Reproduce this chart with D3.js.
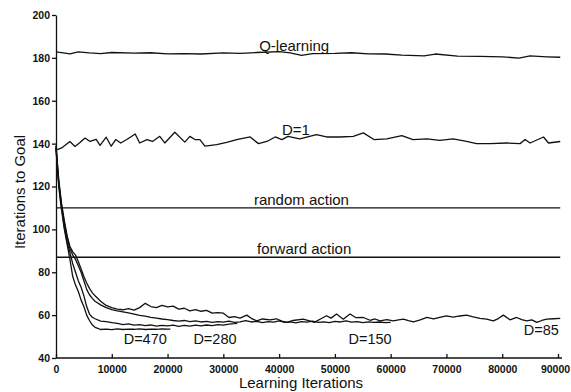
<!DOCTYPE html>
<html>
<head>
<meta charset="utf-8">
<script src="https://cdn.jsdelivr.net/npm/d3@7"></script>
<style>
  body { margin: 0; background: #fff; }
  svg { display: block; font-family: "Liberation Sans", Arial, sans-serif; }
  .tick text { font-weight: bold; fill: #111; }
</style>
</head>
<body>
<svg></svg>
<script>
// series values: [learning iteration, iterations to goal]
let qLearning = [[0,182.8],[2500,181.9],[4000,182.8],[6000,182.3],[8000,182],[10000,182.5],[14000,182.2],[17000,182.4],[20000,181.9],[23000,182],[26000,181.8],[30000,182.3],[33000,182.1],[36000,182.5],[40000,182.9],[42000,182.3],[44000,181.2],[46000,182],[50000,182.1],[53000,182.4],[56000,181.9],[59000,181.8],[62000,181.3],[66000,180.9],[68000,181.8],[72000,180.8],[76000,180.7],[80000,180.5],[83000,179.9],[85000,180.9],[88000,180.5],[90400,180.3]]

let d1 = [[0,137],[1000,138],[2500,141],[3400,138.7],[4300,140.5],[5200,142.6],[6100,141],[7200,142],[7900,139.2],[9000,143],[9900,138.8],[10700,141.9],[11600,140.3],[12700,141.9],[14200,144.5],[15000,140.3],[16300,141.9],[17300,141],[18600,143.4],[19500,140.3],[21300,145.3],[23100,140.7],[24000,143.4],[24900,141.9],[25800,141.9],[26700,138.8],[28800,139.5],[30600,140.6],[32400,141.9],[34800,143.1],[36300,140],[37800,141],[39300,143.1],[40500,141.9],[41600,143.4],[43700,142.2],[46700,144.2],[48500,143.1],[50900,143.1],[53300,143.4],[55100,145],[57000,141.9],[59300,142.2],[62000,143.7],[64000,141.9],[66500,142.2],[68800,141.5],[71200,142.2],[73600,141],[75400,140],[77800,140],[80800,140.3],[83200,140],[84100,141.9],[85000,140.3],[87400,143.1],[88300,140.3],[90400,141]]

let randomAction = [[0,110],[90400,110]]
let forwardAction = [[0,87],[90400,87]]

let d470 = [[0,138],[250,128],[500,120],[750,114],[1000,109],[1500,100],[2000,93],[2500,86],[3000,78],[3500,74],[4000,71],[4500,67],[5000,64],[5500,60],[6000,57.5],[6500,55.5],[7000,54.3],[7500,53.8],[8000,53.3],[9000,53.5],[10000,53.2],[11000,53.6],[12000,53.3],[13000,53.5],[14000,53.4],[15000,53.6],[16000,53.3],[17000,53.5],[18000,53.4],[19000,53.6],[20000,53.5],[20500,53.5]]

let d280 = [[0,138],[250,129],[500,121],[1000,110],[1500,101],[2000,94],[2500,89],[3000,84],[3500,80],[4000,76],[4500,73],[5000,69],[5500,64],[6000,60.5],[6500,59],[7000,58.3],[8000,57.2],[9000,57],[10000,56.5],[11000,56.2],[12000,55.6],[13000,55.9],[14000,55.3],[15000,55.6],[16000,55.1],[17000,55.4],[18000,54.9],[19000,55.2],[20000,55],[21000,55.3],[22000,54.8],[23000,55.2],[24000,54.9],[25000,55.3],[26000,55],[27000,55.4],[28000,55.1],[29000,55.6],[30000,55.3],[31000,55.8],[32000,56],[32500,56.2]]

let d150 = [[0,139],[250,130],[500,122],[1000,111],[1500,103],[2000,96],[2500,91],[3000,88],[3500,86],[4000,83],[4500,80],[5000,76],[5500,72],[6000,69.5],[6500,67.8],[7000,66.5],[8000,64.8],[9000,63.5],[10000,62.6],[11000,62],[12000,61.5],[13000,61],[14000,60.5],[15000,59.9],[16000,59.5],[17000,59],[18000,58.6],[19000,58.2],[20000,57.9],[21000,57.5],[22000,57.2],[23000,57.5],[24000,57],[25000,57.3],[26000,56.8],[27000,57.1],[28000,56.6],[29000,57],[30000,56.7],[31000,57.2],[32000,56.6],[33000,56.9],[34000,57.4],[35000,56.8],[36000,57.1],[37000,56.5],[38000,57],[39000,56.7],[40000,57.3],[41000,56.6],[42000,56.9],[43000,56.4],[44000,57],[45000,56.7],[46000,57.2],[47000,56.6],[48000,56.9],[49000,56.5],[50000,57.1],[51000,56.8],[52000,57.3],[53000,56.7],[54000,57],[55000,56.5],[56000,56.9],[57000,56.6],[58000,56.8],[59000,56.5],[60000,56.6]]

let d85 = [[0,139],[250,131],[500,123],[1000,112],[1500,104],[2000,97],[2500,92],[3000,89.5],[3500,88],[4000,85],[4500,81.5],[5000,78],[5500,75],[6000,72.5],[6500,70.5],[7000,69],[8000,66.5],[9000,64.5],[10000,63.5],[11000,62.8],[12000,62.5],[13000,63],[14000,62.3],[15000,63.5],[16000,65.5],[17000,64],[18000,63.5],[19000,64.5],[20000,63.8],[21000,64.2],[22000,62.8],[23000,63.2],[24000,62],[25000,62.6],[26000,61.8],[27000,62.2],[28000,60.9],[29000,61.2],[30000,60.9],[31000,58.9],[32000,59.3],[33000,58.6],[34200,60],[35000,58.5],[36000,57.3],[37000,58.2],[38400,57.8],[39500,58.3],[40500,57.2],[41400,56.6],[42500,57.5],[44300,58.1],[45300,57.4],[46300,56.6],[47500,58.3],[48500,59.7],[49300,58.6],[50300,60.5],[51500,58.1],[52700,60.5],[53800,58.8],[55100,58.9],[56300,57.6],[57200,58.2],[58100,57.3],[59300,57.9],[60500,57.3],[61400,57.8],[62300,58.1],[63200,57.4],[64100,56.9],[65300,57.8],[66500,58.9],[67700,58.2],[68800,59],[70000,59.7],[71200,59.1],[72400,59.6],[73600,60],[74800,59.2],[76000,58.5],[77200,58.1],[78400,57.3],[79300,58.4],[80200,60],[81400,57.8],[82600,58.9],[83500,57.9],[84400,57.3],[85300,57.8],[86200,56.6],[87100,57.5],[88000,58.1],[89200,58.3],[90400,58.5]]

let xTicks = [0, 10000, 20000, 30000, 40000, 50000, 60000, 70000, 80000, 90000]
let yTicks = [40, 60, 80, 100, 120, 140, 160, 180, 200]

let width = 571;
let height = 392;

let svg = d3.select("svg")
    .attr("width", width)
    .attr("height", height)

let xScale = d3.scaleLinear()
    .domain([0, 90000])
    .range([56, 558])

let yScale = d3.scaleLinear()
    .domain([40, 200])
    .range([358, 15])

let line = d3.line()
    .x((d) => xScale(d[0]))
    .y((d) => yScale(d[1]))

let drawAxes = () => {
    let xAxis = d3.axisBottom(xScale)
        .tickValues(xTicks)
        .tickFormat(d3.format("d"))
        .tickSizeInner(-4)
        .tickSizeOuter(0)
        .tickPadding(8)

    let yAxis = d3.axisLeft(yScale)
        .tickValues(yTicks)
        .tickSizeInner(4)
        .tickSizeOuter(0)
        .tickPadding(2)

    let gx = svg.append("g")
        .attr("id", "x-axis")
        .attr("transform", "translate(0," + yScale(40) + ")")
        .call(xAxis)
    gx.select(".domain").attr("d", "M" + xScale(0) + ",0H" + (xScale(90000) + 4))
    gx.selectAll("text")
        .style("font-size", "10.5px")
        .attr("dx", (d) => d == 90000 ? -3 : 0)

    let gy = svg.append("g")
        .attr("id", "y-axis")
        .attr("transform", "translate(" + xScale(0) + ",0)")
        .call(yAxis)
    gy.selectAll("text").style("font-size", "10.5px")

    svg.selectAll(".domain, .tick line")
        .attr("stroke", "#111")
        .attr("stroke-width", 1.3)
}

let drawLines = () => {
    let allSeries = [qLearning, d1, randomAction, forwardAction, d470, d280, d150, d85]
    svg.selectAll("path.series")
        .data(allSeries)
        .enter()
        .append("path")
        .attr("class", "series")
        .attr("d", line)
        .attr("fill", "none")
        .attr("stroke", "#111")
        .attr("stroke-width", 1.3)
        .attr("stroke-linejoin", "round")
}

let drawLabels = () => {
    // annotation anchors in data units
    let notes = [
        ["Q-learning", 42700, 183.3, 15],
        ["D=1", 43000, 144.2, 15],
        ["random action", 44000, 111.4, 15],
        ["forward action", 44500, 88.6, 15],
        ["D=470", 16000, 46.4, 14.5],
        ["D=280", 28500, 46.4, 14.5],
        ["D=150", 56300, 46.4, 14.5],
        ["D=85", 87000, 50.8, 14.5]
    ]
    svg.selectAll("text.note")
        .data(notes)
        .enter()
        .append("text")
        .attr("class", "note")
        .attr("x", (d) => xScale(d[1]))
        .attr("y", (d) => yScale(d[2]))
        .attr("text-anchor", "middle")
        .style("font-size", (d) => d[3] + "px")
        .attr("fill", "#111")
        .text((d) => d[0])

    svg.append("text")
        .attr("x", 301)
        .attr("y", 388)
        .attr("text-anchor", "middle")
        .style("font-size", "15px")
        .attr("fill", "#111")
        .text("Learning Iterations")

    svg.append("text")
        .attr("transform", "translate(25,192) rotate(-90)")
        .attr("text-anchor", "middle")
        .style("font-size", "15px")
        .attr("fill", "#111")
        .text("Iterations to Goal")
}

drawLines();
drawAxes();
drawLabels();
</script>
</body>
</html>
